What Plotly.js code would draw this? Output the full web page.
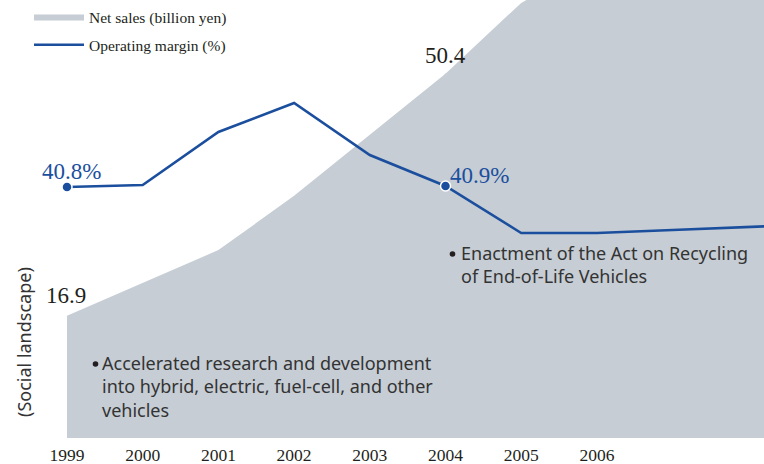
<!DOCTYPE html>
<html>
<head>
<meta charset="utf-8">
<script src="https://cdn.plot.ly/plotly-3.0.1.min.js"></script>
<style>html,body{margin:0;padding:0;background:#fff;}#chart{width:764px;height:464px;}</style>
</head>
<body>
<div id="chart"></div>
<script>
// ---- data ----
var years = [1999, 2000, 2001, 2002, 2003, 2004, 2005, 2006, 2007, 2008, 2009];
var netSales = [16.9, 21.4, 26.0, 33.5, 42.0, 50.4, 60.2, 66.0, 70.0, 74.0, 77.0];
var operatingMargin = [40.8, 41.0, 46.3, 49.2, 44.0, 40.9, 36.2, 36.2, 36.5, 36.8, 37.1];
var tickYears = [1999, 2000, 2001, 2002, 2003, 2004, 2005, 2006];
var tickLabels = ['1999', '2000', '2001', '2002', '2003', '2004', '2005', '2006'];
var salesName = 'Net sales (billion yen)';
var marginName = 'Operating margin (%)';
var eventNotes = [
  {year: 2004, lines: ['Enactment of the Act on Recycling', 'of End-of-Life Vehicles']},
  {year: 1999, lines: ['Accelerated research and development', 'into hybrid, electric, fuel-cell, and other', 'vehicles']}
];
var sideLabel = '(Social landscape)';

// ---- layout helpers (pixel -> paper) ----
var L = 67, T = 0, W = 764 - 67, H = 438;
function px(x) { return (x - L) / W; }
function py(y) { return 1 - (y - T) / H; }

var blue = '#1b4f9e';
var serif = 'Liberation Serif, Times New Roman, serif';
var sans = 'Noto Sans, Open Sans, sans-serif';

var i2004 = years.indexOf(2004), i1999 = years.indexOf(1999);

var traces = [
  {
    x: years, y: netSales, name: salesName, type: 'scatter', mode: 'lines',
    fill: 'tozeroy', fillcolor: '#c6cdd4', line: {width: 0, color: '#c6cdd4'},
    legendgroup: 'a', hoverinfo: 'skip'
  },
  {
    x: years, y: operatingMargin, name: marginName, type: 'scatter', mode: 'lines',
    yaxis: 'y2', line: {color: blue, width: 2.6}, legendgroup: 'b', hoverinfo: 'skip'
  },
  {
    x: [years[i1999], years[i2004]], y: [operatingMargin[i1999], operatingMargin[i2004]],
    yaxis: 'y2', type: 'scatter', mode: 'markers', showlegend: false, cliponaxis: false,
    marker: {color: blue, size: 10, line: {color: '#ffffff', width: 1.5}}, hoverinfo: 'skip'
  }
];

var annotations = [
  {x: years[i2004], y: netSales[i2004], xref: 'x', yref: 'y', text: String(netSales[i2004]),
   showarrow: false, yanchor: 'middle', yshift: 18, font: {family: serif, size: 23, color: '#231f20'}},
  {x: years[i1999], y: netSales[i1999], xref: 'x', yref: 'y', text: String(netSales[i1999]),
   showarrow: false, yanchor: 'middle', yshift: 20, xshift: -1, font: {family: serif, size: 23, color: '#231f20'}},
  {x: years[i1999], y: operatingMargin[i1999], xref: 'x', yref: 'y2', text: operatingMargin[i1999].toFixed(1) + '%',
   showarrow: false, yanchor: 'middle', xanchor: 'center', yshift: 16, xshift: 4, font: {family: serif, size: 23, color: blue}},
  {x: years[i2004], y: operatingMargin[i2004], xref: 'x', yref: 'y2', text: operatingMargin[i2004].toFixed(1) + '%',
   showarrow: false, yanchor: 'middle', xanchor: 'left', yshift: 11, xshift: 2, font: {family: serif, size: 23, color: blue}},
  // notes
  {x: px(459), y: py(264.5), xref: 'paper', yref: 'paper', text: eventNotes[0].lines.join('<br>'), showarrow: false,
   xanchor: 'left', yanchor: 'middle', align: 'left', font: {family: sans, size: 18, color: '#333333'}},
  {x: px(100), y: py(386.5), xref: 'paper', yref: 'paper', text: eventNotes[1].lines.join('<br>'), showarrow: false,
   xanchor: 'left', yanchor: 'middle', align: 'left', font: {family: sans, size: 18, color: '#333333'}},
  {x: px(24), y: py(342), xref: 'paper', yref: 'paper', text: sideLabel, showarrow: false, textangle: -90,
   xanchor: 'center', yanchor: 'middle', font: {family: sans, size: 18, color: '#333333'}}
];

function bullet(xp, yp) {
  return {type: 'circle', xref: 'paper', yref: 'paper', xsizemode: 'pixel', ysizemode: 'pixel',
          xanchor: px(xp), yanchor: py(yp), x0: -2.8, x1: 2.8, y0: -2.8, y1: 2.8,
          fillcolor: '#231f20', line: {width: 0}};
}

var shapes = [
  {type: 'line', xref: 'x', yref: 'y', x0: years[i2004], x1: years[i2004], y0: 0, y1: netSales[i2004],
   line: {color: '#9ea7b0', width: 1.3, dash: 'dash'}, layer: 'below'},
  bullet(452.5, 254),
  bullet(95.5, 364)
];

var layout = {
  width: 764, height: 464,
  margin: {l: L, r: 764 - L - W, t: T, b: 464 - T - H, pad: 0},
  paper_bgcolor: '#ffffff', plot_bgcolor: 'rgba(0,0,0,0)',
  showlegend: true,
  legend: {x: px(29), y: 1.0, xanchor: 'left', yanchor: 'top', bgcolor: 'rgba(0,0,0,0)',
           font: {family: serif, size: 15.5, color: '#231f20'}, tracegroupgap: 5, itemwidth: 50},
  xaxis: {range: [1999, 1999 + (764 - L) / 75.7], tickvals: tickYears, ticktext: tickLabels,
          showgrid: false, zeroline: false, showline: false, ticks: '', ticklabelstandoff: 4,
          tickfont: {family: serif, size: 17.5, color: '#231f20'}, fixedrange: true},
  yaxis: {range: [0, 60.6], visible: false, fixedrange: true},
  yaxis2: {range: [15.7, 59.5], overlaying: 'y', visible: false, fixedrange: true},
  annotations: annotations,
  shapes: shapes,
  hovermode: false
};

Plotly.newPlot('chart', traces, layout, {displayModeBar: false, staticPlot: true});
</script>
</body>
</html>
